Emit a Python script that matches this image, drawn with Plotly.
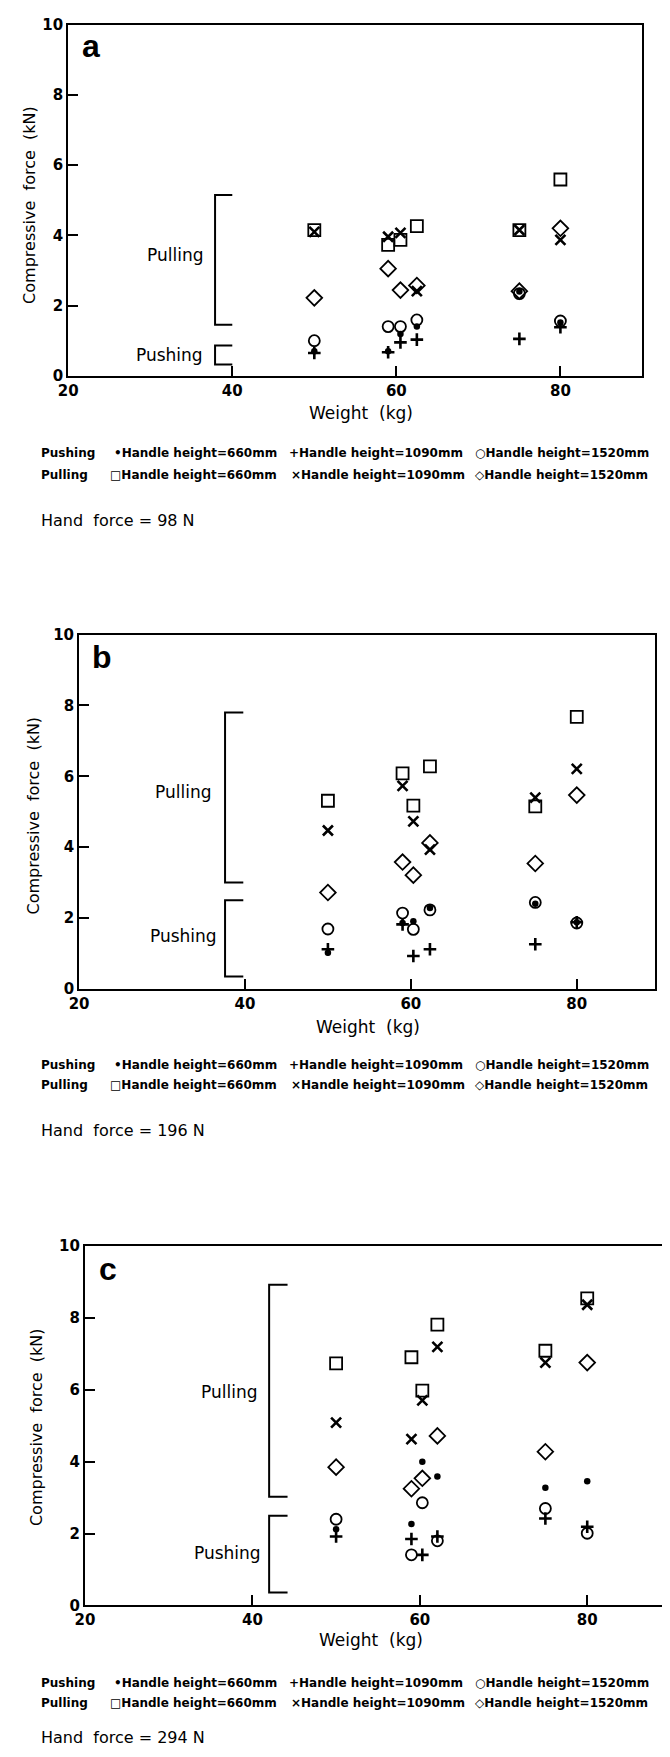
import plotly.graph_objects as go

# ---------------- data ----------------
weights_a = [50, 59, 60.5, 62.5, 75, 80]
weights_b = [50, 59, 60.3, 62.3, 75, 80]
weights_c = [50, 59, 60.3, 62.1, 75, 80]

# panel a : hand force 98 N
push660_a = [0.70, 0.70, 1.19, 1.40, 2.40, 1.52]
push1090_a = [0.65, 0.67, 0.95, 1.03, 1.05, 1.38]
push1520_a = [1.00, 1.40, 1.40, 1.59, 2.34, 1.56]
pull660_a = [4.15, 3.73, 3.87, 4.26, 4.15, 5.59]
pull1090_a = [4.10, 3.96, 4.07, 2.41, 4.15, 3.87]
pull1520_a = [2.22, 3.05, 2.44, 2.57, 2.41, 4.20]

# panel b : hand force 196 N
push660_b = [1.02, 1.86, 1.91, 2.28, 2.40, 1.88]
push1090_b = [1.12, 1.82, 0.93, 1.12, 1.26, 1.88]
push1520_b = [1.69, 2.14, 1.68, 2.23, 2.44, 1.86]
pull660_b = [5.31, 6.08, 5.17, 6.28, 5.15, 7.68]
pull1090_b = [4.47, 5.73, 4.73, 3.93, 5.40, 6.21]
pull1520_b = [2.72, 3.58, 3.21, 4.12, 3.54, 5.47]

# panel c : hand force 294 N
push660_c = [2.12, 2.27, 4.00, 3.59, 3.28, 3.46]
push1090_c = [1.92, 1.85, 1.41, 1.92, 2.42, 2.19]
push1520_c = [2.40, 1.41, 2.86, 1.80, 2.70, 2.01]
pull660_c = [6.74, 6.91, 5.98, 7.82, 7.09, 8.55]
pull1090_c = [5.09, 4.63, 5.71, 7.20, 6.76, 8.37]
pull1520_c = [3.85, 3.25, 3.54, 4.72, 4.28, 6.76]

# bracket ranges (kN) for Pulling / Pushing groups
pull_range_a = [1.45, 5.15]
push_range_a = [0.32, 0.86]
pull_range_b = [3.0, 7.8]
push_range_b = [0.35, 2.5]
pull_range_c = [3.03, 8.93]
push_range_c = [0.36, 2.5]

panel_letters = ["a", "b", "c"]
hand_forces = ["Hand  force = 98 N", "Hand  force = 196 N", "Hand  force = 294 N"]
series_names = ["Pushing 660mm", "Pushing 1090mm", "Pushing 1520mm",
                "Pulling 660mm", "Pulling 1090mm", "Pulling 1520mm"]
legend_push = ["•Handle height=660mm", "+Handle height=1090mm", "○Handle height=1520mm"]
legend_pull = ["□Handle height=660mm", "×Handle height=1090mm", "◇Handle height=1520mm"]
x_ticks = [20, 40, 60, 80]
y_ticks = [0, 2, 4, 6, 8, 10]

# ---------------- layout geometry (page pixels) ----------------
OFF = 8                       # default body margin of the html page
W, H = 670 - OFF, 1757 - OFF


def px(x):
    return (x - OFF) / W


def py(y):
    return 1 - (y - OFF) / H


panels = [
    dict(x0=59, x1=642, yt=15.7, yb=370.5, xr=[20, 90.0], w=weights_a,
         s=[push660_a, push1090_a, push1520_a, pull660_a, pull1090_a, pull1520_a],
         pull=pull_range_a, push=push_range_a, bx=37.9, bx2=40.0,
         pull_lab=(167, 3.45), push_lab=(162, 0.6),
         letter=(82, 37), ytitle=(19, 198), xtitle=(356, 408),
         leg_y=(449, 471, 517)),
    dict(x0=70, x1=654.5, yt=632, yb=990, xr=[20, 89.4], w=weights_b,
         s=[push660_b, push1090_b, push1520_b, pull660_b, pull1090_b, pull1520_b],
         pull=pull_range_b, push=push_range_b, bx=37.6, bx2=39.8,
         pull_lab=(176, 5.55), push_lab=(176, 1.5),
         letter=(93, 655), ytitle=(24, 815), xtitle=(363, 1029),
         leg_y=(1067, 1087, 1133)),
    dict(x0=76, x1=665, yt=1250, yb=1613, xr=[20, 89.3], w=weights_c,
         s=[push660_c, push1090_c, push1520_c, pull660_c, pull1090_c, pull1520_c],
         pull=pull_range_c, push=push_range_c, bx=42.0, bx2=44.2,
         pull_lab=(222, 5.95), push_lab=(221, 1.46),
         letter=(99, 1273), ytitle=(27, 1433), xtitle=(366, 1648),
         leg_y=(1691, 1712, 1746)),
]

styles = [
    dict(symbol="circle", size=6.5, color="black", line=dict(width=0)),
    dict(symbol="cross-thin", size=9, color="black", line=dict(width=2.6, color="black")),
    dict(symbol="circle-open", size=11, color="black", line=dict(width=1.8, color="black")),
    dict(symbol="square-open", size=12, color="black", line=dict(width=1.8, color="black")),
    dict(symbol="x-thin", size=10, color="black", line=dict(width=2.6, color="black")),
    dict(symbol="diamond-open", size=12, color="black", line=dict(width=1.8, color="black")),
]

FONT = "DejaVu Sans"
fig = go.Figure()
layout = dict(width=W, height=H, margin=dict(l=0, r=0, t=0, b=0),
              paper_bgcolor="white", plot_bgcolor="white", showlegend=False)
annotations = []
shapes = []


def note(text, x, y, size, xanchor="center", yanchor="middle", xref="paper", yref="paper",
         family=FONT, angle=0):
    annotations.append(dict(text=text, x=x, y=y, xref=xref, yref=yref, xanchor=xanchor,
                            yanchor=yanchor, showarrow=False, textangle=angle,
                            font=dict(family=family, size=size, color="black")))


for i, p in enumerate(panels):
    sfx = "" if i == 0 else str(i + 1)
    xa, ya = "x" + sfx, "y" + sfx
    for name, vals, st in zip(series_names, p["s"], styles):
        fig.add_trace(go.Scatter(x=p["w"], y=vals, mode="markers", name=name,
                                 marker=st, xaxis=xa, yaxis=ya, cliponaxis=False))
    axcommon = dict(showline=True, linecolor="black", linewidth=2, mirror=True,
                    ticks="inside", ticklen=10, tickwidth=2, tickcolor="black",
                    showgrid=False, zeroline=False,
                    tickfont=dict(family=FONT, size=15, color="black", weight="bold"))
    layout["xaxis" + sfx] = dict(axcommon, domain=[px(p["x0"]), px(p["x1"])],
                                 range=p["xr"], tickvals=x_ticks, anchor=ya)
    layout["yaxis" + sfx] = dict(axcommon, domain=[py(p["yb"]), py(p["yt"])],
                                 range=[0, 10], tickvals=y_ticks, anchor=xa)
    # brackets
    for lo, hi in (p["pull"], p["push"]):
        shapes.append(dict(type="path", xref=xa, yref=ya,
                           path=f"M {p['bx2']},{hi} L {p['bx']},{hi} L {p['bx']},{lo} L {p['bx2']},{lo}",
                           line=dict(color="black", width=2)))
    note("Pulling", px(p["pull_lab"][0]), p["pull_lab"][1], 17, yref=ya)
    note("Pushing", px(p["push_lab"][0]), p["push_lab"][1], 17, yref=ya)
    note("<b>" + panel_letters[i] + "</b>", px(p["letter"][0]), py(p["letter"][1]), 32,
         family="Liberation Sans")
    note("Compressive  force  (kN)", px(p["ytitle"][0]), py(p["ytitle"][1]), 16, angle=-90)
    note("Weight  (kg)", px(p["xtitle"][0]), py(p["xtitle"][1]), 17)
    # legend text rows
    ly1, ly2, ly3 = p["leg_y"]
    for row_y, row_lab, items, xs in ((ly1, "Pushing", legend_push, (103, 281, 470)),
                                       (ly2, "Pulling", legend_pull, (99, 283, 470))):
        note("<b>" + row_lab + "</b>", px(29), py(row_y), 12, xanchor="left")
        for txt, xx in zip(items, xs):
            note("<b>" + txt + "</b>", px(xx), py(row_y), 12, xanchor="left")
    note(hand_forces[i], px(29), py(ly3), 16, xanchor="left")

layout["annotations"] = annotations
layout["shapes"] = shapes
fig.update_layout(**layout)
fig.write_html("out.html")
